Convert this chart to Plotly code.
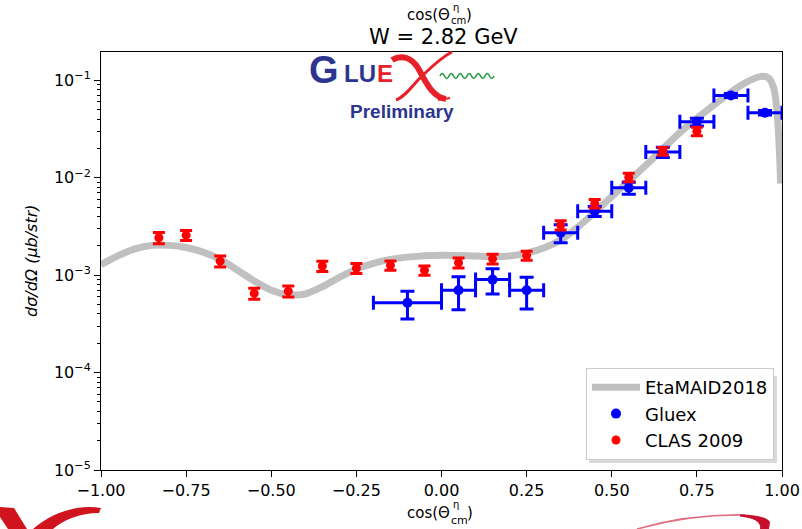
import plotly.graph_objects as go

# ---------------- data ----------------
# EtaMAID2018 model curve, W = 2.82 GeV
theory_x = [-1.0, -0.95, -0.9, -0.85, -0.8, -0.75, -0.7, -0.65, -0.6, -0.55, -0.5,
            -0.45, -0.4, -0.35, -0.3, -0.25, -0.2, -0.15, -0.1, 0.0, 0.1, 0.15, 0.2,
            0.25, 0.3, 0.35, 0.4, 0.5, 0.6, 0.7, 0.8, 0.88, 0.935, 0.96, 0.975,
            0.985, 0.992, 0.996]
theory_y = [1.28e-3, 1.58e-3, 1.86e-3, 2.02e-3, 2.02e-3, 1.92e-3, 1.72e-3, 1.45e-3,
            1.13e-3, 8.7e-4, 7.0e-4, 6.3e-4, 6.4e-4, 7.6e-4, 9.5e-4, 1.15e-3, 1.32e-3,
            1.45e-3, 1.53e-3, 1.6e-3, 1.57e-3, 1.55e-3, 1.57e-3, 1.68e-3, 1.9e-3,
            2.3e-3, 3.1e-3, 6.4e-3, 0.0134, 0.029, 0.0557, 0.089, 0.109, 0.106,
            0.085, 0.05, 0.02, 0.0087]

# GlueX preliminary
gluex_x = [-0.1, 0.05, 0.15, 0.25, 0.35, 0.45, 0.55, 0.65, 0.75, 0.85, 0.95]
gluex_xerr = [0.1, 0.05, 0.05, 0.05, 0.05, 0.05, 0.05, 0.05, 0.05, 0.05, 0.05]
gluex_y = [5.2e-4, 7.0e-4, 9.0e-4, 7.0e-4, 2.72e-3, 4.53e-3, 7.87e-3, 0.0183,
           0.0374, 0.0697, 0.0464]
gluex_yerr = [1.65e-4, 2.6e-4, 2.6e-4, 2.5e-4, 5.7e-4, 5.4e-4, 1.1e-3, 2.2e-3,
              3.4e-3, 3.3e-3, 2.5e-3]

# CLAS 2009
clas_x = [-0.83, -0.75, -0.65, -0.55, -0.45, -0.35, -0.25, -0.15, -0.05, 0.05,
          0.15, 0.25, 0.35, 0.45, 0.55, 0.65, 0.75]
clas_y = [2.42e-3, 2.57e-3, 1.39e-3, 6.49e-4, 6.85e-4, 1.24e-3, 1.18e-3, 1.26e-3,
          1.12e-3, 1.34e-3, 1.47e-3, 1.59e-3, 3.26e-3, 5.43e-3, 0.0101, 0.0187, 0.030]
clas_yerr = [3.2e-4, 3.0e-4, 1.8e-4, 8.5e-5, 9.0e-5, 1.5e-4, 1.4e-4, 1.4e-4,
             1.2e-4, 1.6e-4, 1.7e-4, 1.7e-4, 3.5e-4, 5.5e-4, 1.0e-3, 1.7e-3, 3.0e-3]

xtick_vals = [-1.0, -0.75, -0.5, -0.25, 0.0, 0.25, 0.5, 0.75, 1.0]
xtick_text = ["−1.00", "−0.75", "−0.50", "−0.25", "0.00", "0.25", "0.50", "0.75", "1.00"]
ytick_vals = [1e-5, 1e-4, 1e-3, 1e-2, 1e-1]
ytick_text = ["10<sup>−5</sup>", "10<sup>−4</sup>", "10<sup>−3</sup>",
              "10<sup>−2</sup>", "10<sup>−1</sup>"]
yminor_vals = [m * 10.0 ** e for e in range(-5, 0) for m in range(2, 10) if m * 10.0 ** e < 0.2]

# ---------------- page geometry ----------------
W, H = 802, 529
L, R, T, B = 101, 782, 52, 470
FONT = "DejaVu Sans"


def px(x):
    return (x - L) / (R - L)


def py(y):
    return (B - y) / (B - T)


def path(segs):
    parts = []
    for cmd, nums in segs:
        s = cmd
        for i in range(0, len(nums), 2):
            s += f" {px(nums[i]):.5f},{py(nums[i + 1]):.5f}"
        parts.append(s)
    return " ".join(parts)


fig = go.Figure()

fig.add_trace(go.Scatter(
    x=theory_x, y=theory_y, mode="lines", name="EtaMAID2018",
    line=dict(color="#c0c0c0", width=7, shape="spline", smoothing=0.8),
    legendgroup="a", legendrank=1,
))

fig.add_trace(go.Scatter(
    x=gluex_x, y=gluex_y, mode="markers", name="Gluex",
    marker=dict(color="#0000ff", size=10, symbol="circle"),
    error_x=dict(type="data", array=gluex_xerr, color="#0000ff", thickness=3, width=7),
    error_y=dict(type="data", array=gluex_yerr, color="#0000ff", thickness=3, width=7),
    legendgroup="b", legendrank=2,
))

fig.add_trace(go.Scatter(
    x=clas_x, y=clas_y, mode="markers", name="CLAS 2009",
    marker=dict(color="#ff0000", size=9, symbol="circle"),
    error_y=dict(type="data", array=clas_yerr, color="#ff0000", thickness=3, width=6),
    legendgroup="c", legendrank=3,
))

LOGO_BLUE = "#2b3590"
LOGO_RED = "#e8202a"

shapes = []
# legend drop shadow
shapes.append(dict(type="rect", xref="paper", yref="paper",
                   x0=px(589), x1=px(777), y0=py(463), y1=py(376),
                   fillcolor="rgba(150,150,150,0.35)", line=dict(width=0), layer="above"))

# logo: the big red X drawn as two brush strokes
shapes.append(dict(type="path", xref="paper", yref="paper",
                   path=path([("M", [392, 60]), ("C", [402, 54, 412, 58, 418, 68]),
                              ("C", [426, 82, 432, 97, 446, 99])]),
                   line=dict(color=LOGO_RED, width=6), layer="above"))
shapes.append(dict(type="path", xref="paper", yref="paper",
                   path=path([("M", [452, 52]), ("C", [440, 58, 428, 70, 418, 80]),
                              ("C", [410, 89, 404, 97, 396, 100])]),
                   line=dict(color=LOGO_RED, width=3), layer="above"))
shapes.append(dict(type="path", xref="paper", yref="paper",
                   path=path([("M", [438, 100]), ("L", [450, 98])]),
                   line=dict(color=LOGO_RED, width=2), layer="above"))

# logo: green wave after the X
wave = [("M", [440, 76])]
xw = 440.0
for k in range(12):
    dy = -5 if k % 2 == 0 else 5
    wave.append(("Q", [xw + 2.25, 76 + dy, xw + 4.5, 76]))
    xw += 4.5
shapes.append(dict(type="path", xref="paper", yref="paper", path=path(wave),
                   line=dict(color="#1f9a3c", width=1.6), layer="above"))

# decorative swooshes along the bottom edge
shapes.append(dict(type="path", xref="paper", yref="paper",
                   path=path([("M", [0, 507]), ("L", [14, 508]), ("L", [27, 529]),
                              ("L", [8, 529]), ("L", [0, 517]), ("Z", [])]),
                   fillcolor="#d0141e", line=dict(width=0), layer="above"))
shapes.append(dict(type="path", xref="paper", yref="paper",
                   path=path([("M", [33, 529]), ("C", [50, 514, 75, 504, 101, 508]),
                              ("L", [99, 513]), ("C", [80, 513, 63, 520, 53, 529]),
                              ("Z", [])]),
                   fillcolor="#d0141e", line=dict(width=0), layer="above"))
shapes.append(dict(type="path", xref="paper", yref="paper",
                   path=path([("M", [637, 529]), ("Q", [690, 514, 745, 515])]),
                   line=dict(color="#e07080", width=1.8), layer="above"))
shapes.append(dict(type="path", xref="paper", yref="paper",
                   path=path([("M", [740, 514.5]), ("Q", [766, 515, 770, 522]),
                              ("L", [769, 529]), ("L", [760, 529]),
                              ("Q", [762, 519, 740, 516.5]), ("Z", [])]),
                   fillcolor="#c8102e", line=dict(width=0), layer="above"))

ann = []


def text(t, x, y, size, color="black", xanchor="center", yanchor="middle",
         family=FONT, angle=0):
    ann.append(dict(text=t, x=px(x), y=py(y), xref="paper", yref="paper",
                    showarrow=False, xanchor=xanchor, yanchor=yanchor,
                    font=dict(family=family, size=size, color=color),
                    textangle=angle, borderpad=0))


# titles: cos(Θ) with stacked η / cm, then the energy
text("cos(Θ", 451, 15, 15, xanchor="right")
text("η", 452, 7, 10, xanchor="left")
text("cm", 450, 20, 10, xanchor="left")
text(")", 465, 15, 15, xanchor="left")
text("W = 2.82 GeV", 443, 37, 21)

# x axis label
text("cos(Θ", 451, 513, 15, xanchor="right")
text("η", 452, 504, 10, xanchor="left")
text("cm", 450, 520, 11, xanchor="left")
text(")", 466, 513, 15, xanchor="left")

# y axis label
text("<i>dσ/dΩ (μb/str)</i>", 31, 261, 16, angle=-90)

# logo lettering
text("<b>G</b>", 324, 70, 38, color=LOGO_BLUE, family="Liberation Sans")
text("<b>LU</b>", 360, 73, 24, color=LOGO_BLUE, family="Liberation Sans")
text("<b>E</b>", 385, 73, 24, color=LOGO_RED, family="Liberation Sans")
text("<b>Preliminary</b>", 402, 111, 19, color=LOGO_BLUE, family="Liberation Sans")

fig.update_layout(
    width=W, height=H, autosize=False,
    margin=dict(l=L, r=W - R, t=T, b=H - B, pad=0, autoexpand=False),
    paper_bgcolor="white", plot_bgcolor="white",
    font=dict(family=FONT, size=16, color="black"),
    showlegend=True,
    legend=dict(x=px(774), xanchor="right", y=py(460), yanchor="bottom",
                bgcolor="white", bordercolor="#cccccc", borderwidth=1,
                font=dict(family=FONT, size=18, color="black"),
                tracegroupgap=2, itemwidth=48, traceorder="normal"),
    shapes=shapes,
    annotations=ann,
)

fig.update_xaxes(
    range=[-1, 1], tickvals=xtick_vals, ticktext=xtick_text, automargin=False,
    ticks="outside", ticklen=6, tickwidth=1, tickcolor="black",
    showline=True, linecolor="black", linewidth=1, mirror=True,
    showgrid=False, zeroline=False, tickfont=dict(size=16),
)
fig.update_yaxes(
    type="log", range=[-5, -0.71], tickvals=ytick_vals, ticktext=ytick_text,
    automargin=False,
    ticks="outside", ticklen=6, tickwidth=1, tickcolor="black",
    minor=dict(tickvals=yminor_vals, ticks="outside", ticklen=3, tickcolor="black"),
    showline=True, linecolor="black", linewidth=1, mirror=True,
    showgrid=False, zeroline=False, tickfont=dict(size=16),
)

fig.write_html("out.html")
